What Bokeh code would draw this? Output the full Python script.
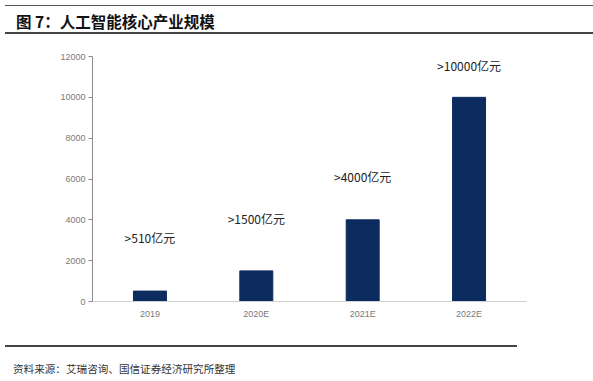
from bokeh.plotting import figure
from bokeh.models import Div, ColumnDataSource, FactorRange
from bokeh.layouts import column
from bokeh.embed import file_html
from bokeh.resources import INLINE
from bokeh.core.properties import value

categories = ["2019", "2020E", "2021E", "2022E"]
market_size = [510, 1500, 4000, 10000]
bar_labels = [">510亿元", ">1500亿元", ">4000亿元", ">10000亿元"]
y_ticks = [0, 2000, 4000, 6000, 8000, 10000, 12000]

title_text = "图 7：人工智能核心产业规模"
source_text = "资料来源：艾瑞咨询、国信证券经济研究所整理"

# pixel gaps of the value labels above the bars (style only)
label_gap_px = [-54, -52, -43, -32]

BAR_COLOR = "#0C2B5E"
CJK = "Noto Sans CJK SC"

src = ColumnDataSource(dict(cat=categories, val=market_size, lab=bar_labels, off=label_gap_px))

x_range = FactorRange(*categories, range_padding=0.04, range_padding_units="absolute")

p = figure(x_range=x_range, y_range=(0, 12000), width=577, height=301,
           output_backend="svg", toolbar_location=None,
           min_border_left=92, min_border_right=51, min_border_top=17, min_border_bottom=39)
p.outline_line_color = None
p.background_fill_color = "white"
p.border_fill_color = "white"
p.xgrid.visible = False
p.ygrid.visible = False

p.vbar(x="cat", top="val", width=0.31, source=src, color=BAR_COLOR)
p.text(x="cat", y="val", text="lab", y_offset="off", source=src,
       text_align="center", text_baseline="middle",
       text_font=value(CJK), text_font_size="12px", text_color="#222222")

p.yaxis.ticker = y_ticks
p.yaxis.axis_line_color = "#8c8c8c"
p.yaxis.major_tick_line_color = "#8c8c8c"
p.yaxis.major_tick_in = 0
p.yaxis.major_tick_out = 4
p.yaxis.minor_tick_line_color = None
p.yaxis.major_label_text_font = "Liberation Sans"
p.yaxis.major_label_text_font_size = "9px"
p.yaxis.major_label_text_color = "#7a7a7a"
p.yaxis.major_label_standoff = 3

p.xaxis.axis_line_color = "#d0d0d0"
p.xaxis.major_tick_line_color = None
p.xaxis.minor_tick_line_color = None
p.xaxis.major_tick_in = 0
p.xaxis.major_tick_out = 0
p.xaxis.major_label_text_font = "Liberation Sans"
p.xaxis.major_label_text_font_size = "9px"
p.xaxis.major_label_text_color = "#7a7a7a"
p.xaxis.major_label_standoff = 7

title_div = Div(
    text=f'<div style="width:580px;height:21px;border-top:1px solid #555;border-bottom:2px solid #444;'
         f'padding-top:5px;font-family:\'{CJK}\';font-weight:bold;font-size:15.5px;line-height:21px;color:#111;'
         f'padding-left:11px;box-sizing:content-box;white-space:nowrap;">{title_text}</div>',
    width=577, height=29)

source_div = Div(
    text=f'<div style="width:512px;border-top:2px solid #444;padding-top:15px;'
         f'font-family:\'{CJK}\';font-size:10.6px;line-height:14px;color:#333;'
         f'padding-left:8px;white-space:nowrap;">{source_text}</div>',
    width=577, height=31)

layout = column(title_div, p, source_div, spacing=0)

open("out.html", "w").write(file_html(layout, INLINE))
